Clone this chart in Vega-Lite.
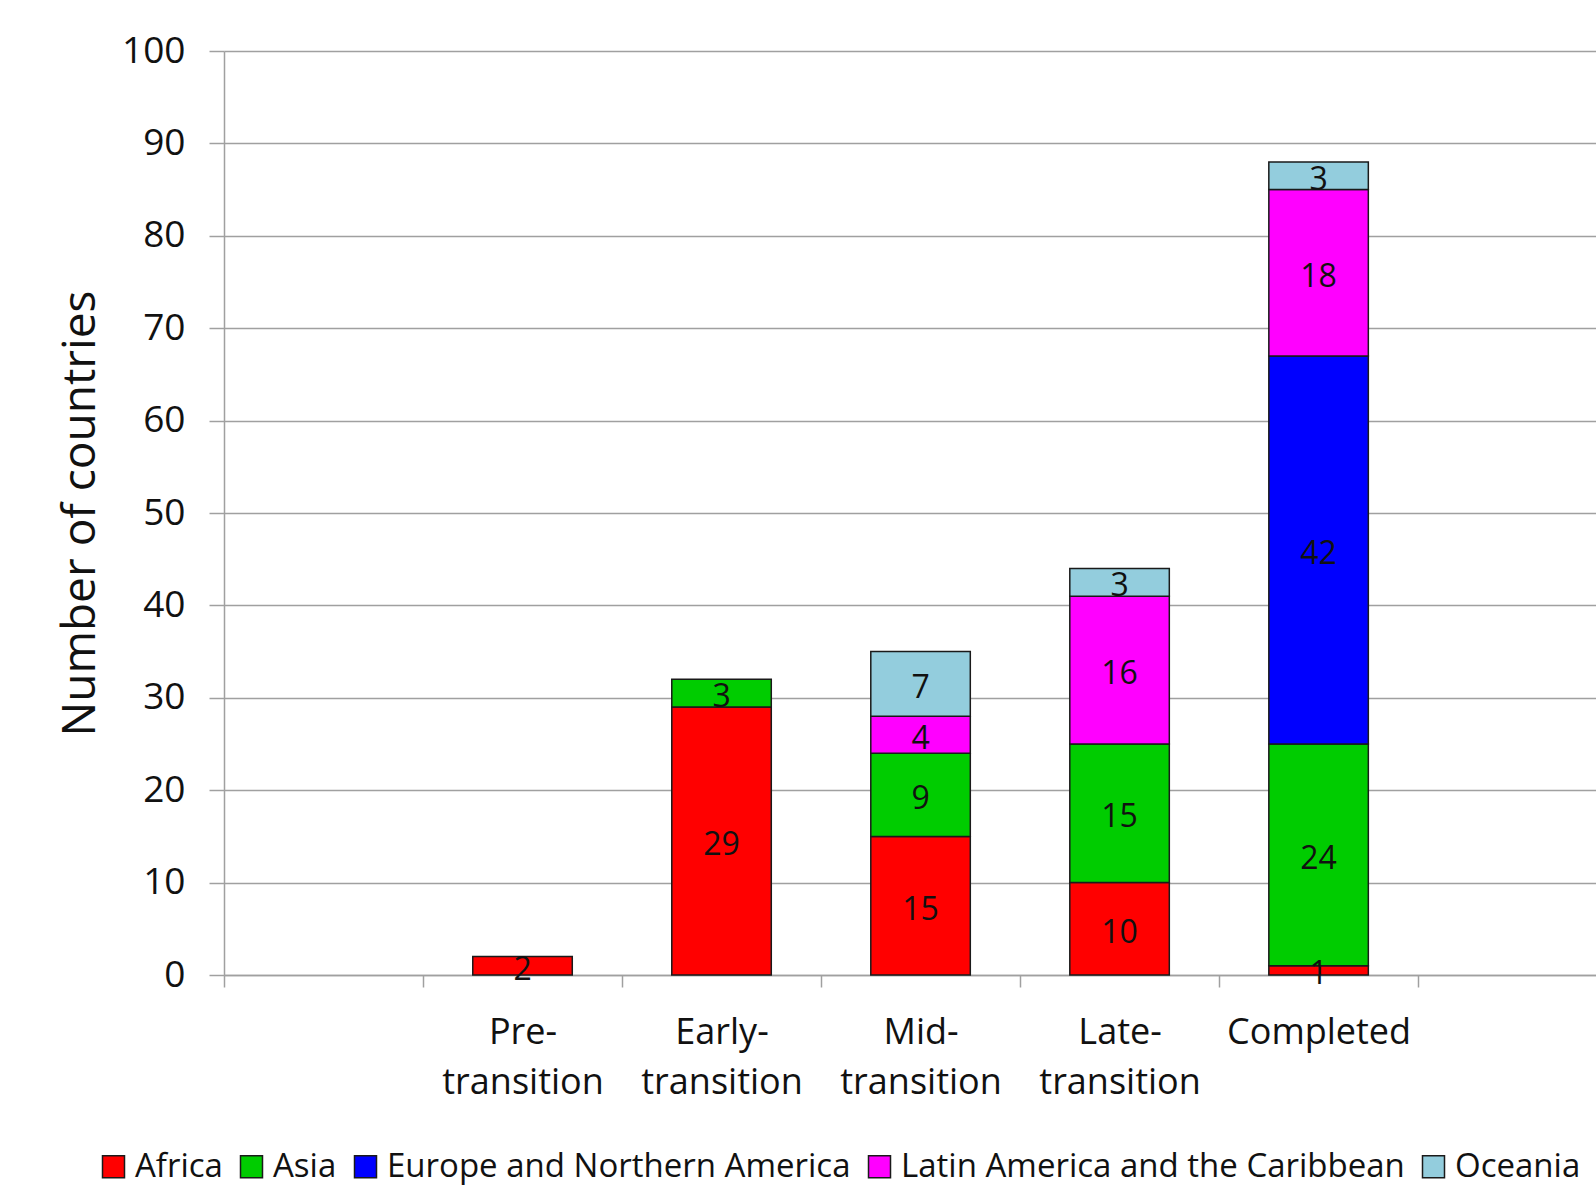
{
  "$schema": "https://vega.github.io/schema/vega-lite/v6.json",
  "autosize": {"type": "none"},
  "padding": {"left": 224, "top": 51, "right": 0, "bottom": 215},
  "width": 1372,
  "height": 924,
  "background": "white",
  "config": {
    "view": {"stroke": null},
    "font": "Open Sans",
    "style": {"guide-label": {"lineBreak": "|"}}
  },
  "data": {
    "values": [
      {"stage": "Pre-transition", "region": "Africa", "countries": 2},
      {"stage": "Early-transition", "region": "Africa", "countries": 29},
      {"stage": "Early-transition", "region": "Asia", "countries": 3},
      {"stage": "Mid-transition", "region": "Africa", "countries": 15},
      {"stage": "Mid-transition", "region": "Asia", "countries": 9},
      {"stage": "Mid-transition", "region": "Latin America and the Caribbean", "countries": 4},
      {"stage": "Mid-transition", "region": "Oceania", "countries": 7},
      {"stage": "Late-transition", "region": "Africa", "countries": 10},
      {"stage": "Late-transition", "region": "Asia", "countries": 15},
      {"stage": "Late-transition", "region": "Latin America and the Caribbean", "countries": 16},
      {"stage": "Late-transition", "region": "Oceania", "countries": 3},
      {"stage": "Completed", "region": "Africa", "countries": 1},
      {"stage": "Completed", "region": "Asia", "countries": 24},
      {"stage": "Completed", "region": "Europe and Northern America", "countries": 42},
      {"stage": "Completed", "region": "Latin America and the Caribbean", "countries": 18},
      {"stage": "Completed", "region": "Oceania", "countries": 3}
    ]
  },
  "transform": [
    {"stack": "countries", "groupby": ["stage"], "sort": [{"field": "region", "order": "ascending"}], "as": ["base", "top"]},
    {"calculate": "(datum.base + datum.top) / 2", "as": "middle"}
  ],
  "encoding": {
    "x": {
      "field": "stage",
      "type": "nominal",
      "scale": {
        "domain": ["lead", "Pre-transition", "Early-transition", "Mid-transition", "Late-transition", "Completed"],
        "paddingInner": 0,
        "paddingOuter": 0.447,
        "align": 0
      },
      "axis": {
        "title": null,
        "labelAngle": 0,
        "tickBand": "extent",
        "grid": false,
        "domainColor": "#a0a0a0",
        "domainWidth": 1.5,
        "tickColor": "#a0a0a0",
        "tickWidth": 1.5,
        "tickSize": 12,
        "labelFont": "Open Sans",
        "labelFontSize": 36,
        "labelColor": "#111111",
        "labelPadding": 28,
        "labelLimit": 0,
        "labelLineHeight": 50,
        "labelExpr": "isString(datum.value) && datum.value != 'lead' ? replace(datum.value, '-t', '-|t') : ''"
      }
    }
  },
  "layer": [
    {
      "mark": {"type": "bar", "stroke": "#1a1a1a", "strokeWidth": 1.5, "width": {"band": 0.5}},
      "encoding": {
        "y": {
          "field": "top",
          "type": "quantitative",
          "scale": {"domain": [0, 100], "nice": false},
          "axis": {
            "title": "Number of countries",
            "values": [0, 10, 20, 30, 40, 50, 60, 70, 80, 90, 100],
            "grid": true,
            "gridColor": "#a0a0a0",
            "gridWidth": 1.5,
            "domainColor": "#a0a0a0",
            "domainWidth": 1.5,
            "tickColor": "#a0a0a0",
            "tickWidth": 1.5,
            "tickSize": 15,
            "labelFont": "Open Sans",
            "labelFontSize": 37,
            "labelColor": "#111111",
            "labelPadding": 24,
            "titleFont": "Open Sans",
            "titleFontSize": 46,
            "titleFontWeight": "normal",
            "titleColor": "#111111",
            "titlePadding": 17
          }
        },
        "y2": {"field": "base"},
        "color": {
          "field": "region",
          "type": "nominal",
          "scale": {
            "domain": ["Africa", "Asia", "Europe and Northern America", "Latin America and the Caribbean", "Oceania"],
            "range": ["#ff0000", "#00cc00", "#0000ff", "#ff00ff", "#93cddd"]
          },
          "legend": {
            "title": null,
            "orient": "none",
            "legendX": -127,
            "legendY": 1099,
            "direction": "horizontal",
            "symbolType": "square",
            "symbolSize": 484,
            "symbolStrokeColor": "#1a1a1a",
            "symbolStrokeWidth": 1.5,
            "symbolOpacity": 1,
            "labelFont": "Open Sans",
            "labelFontSize": 33,
            "labelColor": "#111111",
            "labelOffset": 5,
            "labelLimit": 0,
            "columnPadding": 12
          }
        }
      }
    },
    {
      "mark": {"type": "text", "fontSize": 32, "font": "Open Sans", "color": "#111111", "baseline": "middle", "dy": 4},
      "encoding": {
        "y": {"field": "middle", "type": "quantitative"},
        "text": {"field": "countries", "type": "quantitative"}
      }
    }
  ]
}
